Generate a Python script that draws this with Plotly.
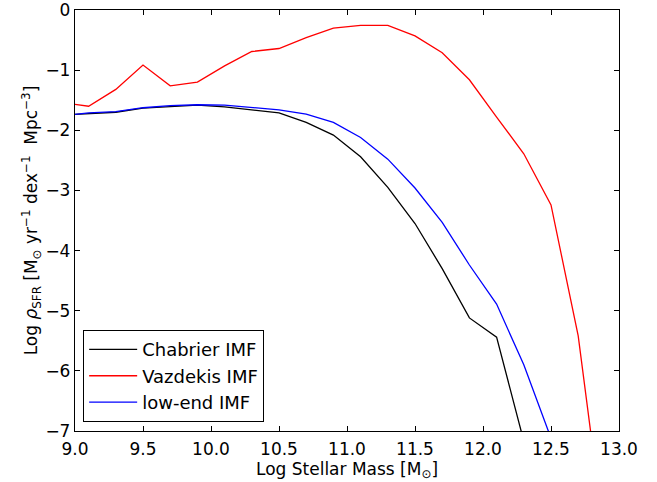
import plotly.graph_objects as go

x_chab = [9.0, 9.1, 9.3, 9.5, 9.7, 9.9, 10.1, 10.3, 10.5, 10.7, 10.9, 11.1, 11.3, 11.5, 11.7, 11.9, 12.1, 12.3]
y_chab = [-1.735, -1.72, -1.70, -1.63, -1.60, -1.58, -1.61, -1.66, -1.71, -1.87, -2.08, -2.44, -2.95, -3.55, -4.30, -5.12, -5.44, -7.17]

x_vaz = [9.0, 9.1, 9.3, 9.5, 9.7, 9.9, 10.1, 10.3, 10.5, 10.7, 10.9, 11.1, 11.3, 11.5, 11.7, 11.9, 12.1, 12.3, 12.5, 12.7, 12.9]
y_vaz = [-1.57, -1.60, -1.32, -0.915, -1.26, -1.20, -0.93, -0.69, -0.64, -0.46, -0.30, -0.255, -0.255, -0.43, -0.71, -1.16, -1.78, -2.39, -3.24, -5.42, -8.9]

x_low = [9.0, 9.1, 9.3, 9.5, 9.7, 9.9, 10.1, 10.3, 10.5, 10.7, 10.9, 11.1, 11.3, 11.5, 11.7, 11.9, 12.1, 12.3, 12.5]
y_low = [-1.735, -1.71, -1.69, -1.625, -1.59, -1.575, -1.58, -1.62, -1.66, -1.73, -1.87, -2.12, -2.48, -2.96, -3.53, -4.24, -4.89, -5.90, -7.12]

x_ticks = [9.0, 9.5, 10.0, 10.5, 11.0, 11.5, 12.0, 12.5, 13.0]
y_ticks = [0, -1, -2, -3, -4, -5, -6, -7]

FONT = "DejaVu Sans"
FS = 17

fig = go.Figure()
fig.add_trace(go.Scatter(x=x_chab, y=y_chab, mode="lines", name="Chabrier IMF",
                         line=dict(color="black", width=1.3)))
fig.add_trace(go.Scatter(x=x_vaz, y=y_vaz, mode="lines", name="Vazdekis IMF",
                         line=dict(color="red", width=1.3)))
fig.add_trace(go.Scatter(x=x_low, y=y_low, mode="lines", name="low-end IMF",
                         line=dict(color="blue", width=1.3)))

axis_common = dict(showline=True, linecolor="black", linewidth=1.3, mirror="ticks",
                   ticks="inside", ticklen=5, tickwidth=1.2, tickcolor="black",
                   showgrid=False, zeroline=False, ticklabeloverflow="allow",
                   automargin=False,
                   tickfont=dict(family=FONT, size=FS, color="black"))

fig.update_layout(
    width=657, height=482,
    margin=dict(l=75, r=38, t=10, b=51),
    paper_bgcolor="white", plot_bgcolor="white",
    font=dict(family=FONT, size=FS, color="black"),
    xaxis=dict(range=[9.0, 13.0], tickvals=x_ticks,
               ticktext=[f"{v:.1f}" for v in x_ticks],
               ticklabelstandoff=2,
               title=dict(text="Log Stellar Mass [M<sub>⊙</sub>]", standoff=0,
                          font=dict(family=FONT, size=FS)),
               **axis_common),
    yaxis=dict(range=[-7, 0], tickvals=y_ticks,
               ticktext=[("−" + str(-v)) if v < 0 else str(v) for v in y_ticks],
               title=dict(text="Log <i>ρ</i><sub>SFR</sub> [M<sub>⊙</sub> yr<sup>−1</sup> dex<sup>−1</sup>  Mpc<sup>−3</sup>]",
                          standoff=3, font=dict(family=FONT, size=FS)),
               **axis_common),
    legend=dict(x=0.015, y=0.021, xanchor="left", yanchor="bottom",
                bordercolor="black", borderwidth=1, bgcolor="white",
                font=dict(family=FONT, size=18), itemwidth=48,
                tracegroupgap=0),
    showlegend=True,
)

fig.write_html("out.html", config={"displayModeBar": False},
               post_script="document.body.style.margin='0';")
